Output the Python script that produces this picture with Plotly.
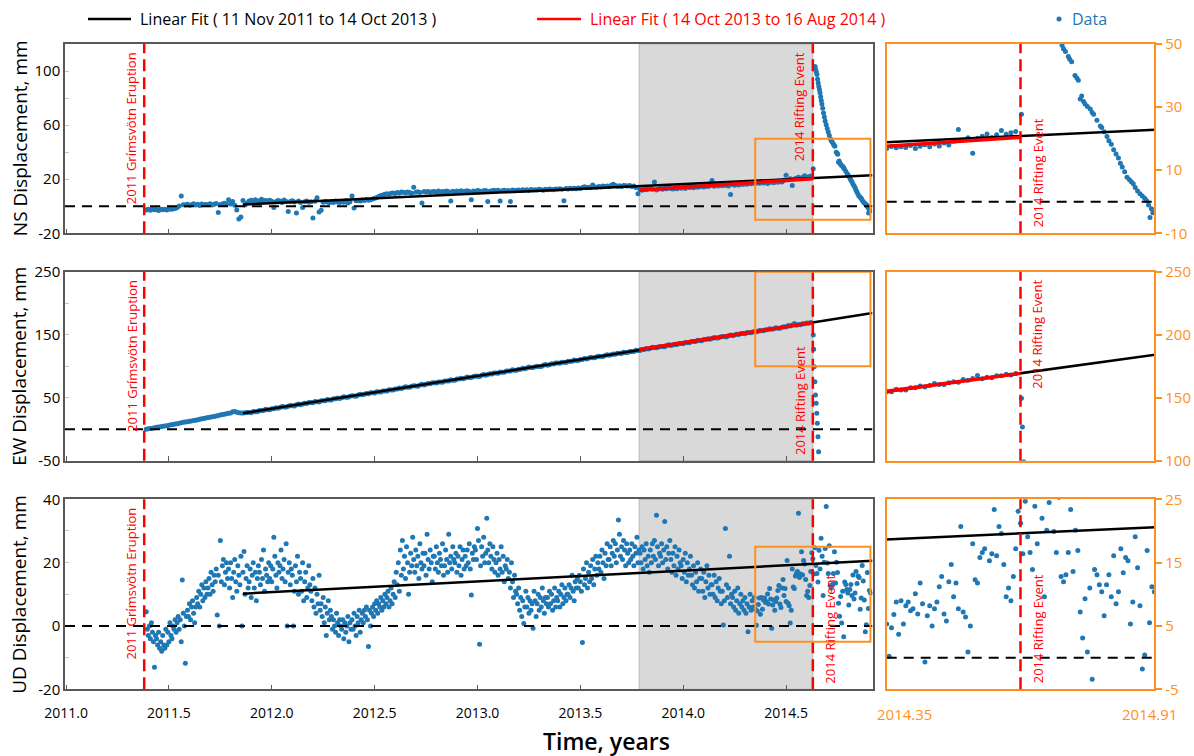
import numpy as np
import plotly.graph_objects as go

# ---------------------------------------------------------------- styling
FONT = "Open Sans"
BLUE = "#1f77b4"
RED = "#ff0000"
ORANGE = "#ff8f1f"
AXIS_GREY = "#595959"
TICK_GREY = "#c4c4c4"

# ---------------------------------------------------------------- events / windows (decimal years)
ERUPTION = 2011.38          # Grímsvötn eruption
RIFTING = 2014.63           # 16 Aug 2014 rifting event
SHADE_START = 2013.786      # 14 Oct 2013
MAIN_RANGE = [2010.995, 2014.92]
INSET_RANGE = [2014.35, 2014.91]
YEAR_TICKS = [2011.0, 2011.5, 2012.0, 2012.5, 2013.0, 2013.5, 2014.0, 2014.5]

# ---------------------------------------------------------------- horizontal GPS solutions
# one solution every 0.01 yr from 2011.39 up to the rifting event
HZ_FIRST_EPOCH = 2011.39
HZ_STEP = 0.01

ns_mm = [
    -2.8, -2.2, -3.0, -1.9, -2.6, -2.4, -3.1, -2.0, -2.5, -2.2,
    -2.7, -1.8, -2.3, -2.1, -1.6, -1.0, 0.2, 7.6, 1.2, 0.9,
    1.5, 0.8, 1.2, 1.8, 1.0, 1.4, 0.6, 1.6, 1.1, 1.3,
    1.2, 1.8, 1.0, 1.5, 2.0, -4.6, 1.3, 1.7, 2.2, 1.4,
    4.8, 1.6, 3.5, 0.8, -2.8, -9.5, -8.0, 4.2, 1.0, 2.4,
    3.8, 4.5, 3.2, 4.9, 4.0, 3.6, 5.2, 4.1, 4.3, 3.9,
    4.4, 3.7, -0.9, 3.3, 4.2, 3.9, 2.8, 4.6, 3.5, -3.8,
    3.6, 4.1, 3.2, -4.9, 3.9, 2.7, -1.0, 3.4, 3.8, 2.9,
    3.3, -8.6, 3.7, 6.2, -4.2, -3.0, 2.9, 3.5, 3.1, 2.6,
    3.4, 2.8, 3.9, 3.2, 2.7, 3.6, 3.0, 4.1, 2.5, 3.3,
    7.6, -1.2, 4.0, 4.3, 3.9, 4.6, 4.2, 5.0, 4.5, 4.8,
    5.4, 5.9, 6.5, 7.3, 7.9, 8.4, 8.8, 9.3, 8.9, 9.6,
    9.8, 9.4, 10.2, 9.7, 10.5, 10.3, 9.9, 10.6, 10.1, 9.6,
    14.1, 10.4, 10.8, 10.2, 2.5, 10.9, 10.5, 11.0, 10.3, 10.7,
    10.9, 10.4, 11.2, 10.6, 11.0, 10.7, 11.3, 10.8, 3.8, 11.1,
    10.6, 11.2, 10.9, 11.4, 10.8, 11.1, 11.5, 10.9, 4.9, 11.3,
    11.0, 11.6, 11.2, 10.8, 11.4, 11.7, 3.5, 11.1, 11.5, 11.9,
    11.3, 11.8, 3.9, 11.5, 11.9, 11.2, 11.7, 3.6, 12.0, 11.4,
    11.8, 12.1, 11.6, 12.3, 11.9, 12.2, 11.7, 12.4, 12.0, 12.3,
    12.1, 12.5, 12.2, 11.9, 12.6, 12.3, 12.8, 12.4, 12.2, 12.7,
    12.5, 12.9, 12.6, 4.1, 13.1, 12.8, 13.3, 12.9, 13.4, 13.0,
    13.5, 13.2, 13.8, 14.4, 13.6, 14.1, 13.7, 15.8, 14.3, 14.0,
    14.6, 14.2, 14.9, 14.4, 15.0, 14.7, 15.6, 16.2, 15.3, 14.8,
    15.1, 14.6, 15.4, 15.2, 14.9, 15.4, 14.7, 15.0, 13.8, 9.3,
    12.4, 11.8, 13.0, 12.2, 12.9, 13.5, 12.5, 18.0, 12.1, 12.8,
    13.2, 12.6, 13.5, 12.9, 13.8, 13.1, 12.7, 13.6, 13.0, 13.9,
    13.4, 14.1, 13.2, 14.5, 13.8, 14.3, 13.6, 14.8, 14.0, 14.4,
    14.9, 14.2, 15.3, 14.6, 15.1, 19.1, 14.8, 15.5, 15.0, 15.7,
    15.2, 15.9, 15.4, 15.0, 8.7, 16.1, 15.6, 16.4, 15.8, 16.6,
    16.0, 16.7, 16.3, 17.0, 16.6, 17.3, 16.9, 17.5, 17.1, 17.4,
    17.2, 17.8, 16.9, 17.6, 18.1, 17.4, 18.3, 17.7, 18.6, 18.0,
    19.2, 22.9, 19.6, 20.3, 15.4, 20.1, 20.8, 21.5, 20.4, 21.2,
    22.6, 21.4, 21.9, 22.3,
]

ew_mm = [
    0.0, 0.6, 1.3, 1.7, 2.4, 2.9, 3.5, 3.8, 4.6, 5.1,
    5.6, 6.2, 6.9, 7.4, 8.3, 8.8, 9.6, 10.1, 10.9, 11.5,
    12.0, 12.6, 13.1, 13.9, 14.3, 15.0, 15.7, 16.4, 17.1, 17.6,
    18.4, 19.0, 19.8, 20.3, 21.1, 21.8, 22.5, 23.3, 23.8, 24.6,
    25.2, 25.9, 27.6, 28.2, 27.0, 26.2, 25.7, 25.9, 26.3, 26.6,
    26.6, 26.2, 28.1, 27.8, 27.6, 29.5, 29.5, 29.5, 31.5, 30.8,
    30.8, 32.5, 32.5, 34.0, 33.2, 34.3, 35.9, 35.1, 35.1, 36.6,
    37.5, 37.1, 36.9, 38.8, 40.0, 38.9, 39.9, 41.1, 40.7, 42.3,
    42.3, 41.9, 43.8, 43.5, 43.3, 45.2, 45.2, 45.2, 47.2, 46.5,
    46.5, 48.2, 48.2, 49.7, 48.9, 50.0, 51.6, 50.8, 50.8, 52.3,
    53.1, 52.7, 52.5, 54.4, 55.6, 54.5, 55.5, 56.7, 56.3, 57.9,
    57.9, 57.5, 59.4, 59.1, 58.9, 60.8, 60.8, 60.8, 62.8, 62.1,
    62.2, 63.9, 63.9, 65.4, 64.6, 65.7, 67.3, 66.5, 66.5, 68.0,
    68.8, 68.4, 68.2, 70.1, 71.3, 70.2, 71.2, 72.4, 72.0, 73.6,
    73.6, 73.2, 75.1, 74.8, 74.6, 76.5, 76.5, 76.5, 78.5, 77.8,
    77.8, 79.5, 79.5, 81.0, 80.2, 81.3, 82.9, 82.1, 82.1, 83.6,
    84.4, 84.0, 83.8, 85.7, 86.9, 85.8, 86.8, 88.0, 87.6, 89.2,
    89.3, 88.9, 90.8, 90.5, 90.3, 92.2, 92.2, 92.2, 94.2, 93.5,
    93.5, 95.2, 95.2, 96.7, 95.9, 97.0, 98.6, 97.8, 97.8, 99.3,
    100.1, 99.7, 99.5, 101.4, 102.6, 101.5, 102.5, 103.7, 103.3, 104.9,
    104.9, 104.5, 106.4, 106.1, 105.9, 107.8, 107.8, 107.8, 109.8, 109.1,
    109.1, 110.8, 110.8, 112.3, 111.5, 112.6, 114.2, 113.4, 113.4, 114.9,
    115.8, 115.4, 115.2, 117.1, 118.3, 117.2, 118.2, 119.4, 119.0, 120.6,
    120.6, 120.2, 122.1, 121.8, 121.6, 123.5, 123.5, 123.5, 125.5, 124.8,
    124.8, 126.5, 126.5, 128.0, 127.2, 128.3, 129.9, 129.1, 129.1, 130.6,
    131.4, 131.0, 130.8, 132.7, 133.9, 132.8, 133.8, 135.0, 134.6, 136.2,
    136.2, 135.8, 137.7, 137.4, 137.2, 139.1, 139.1, 139.1, 141.1, 140.4,
    140.5, 142.2, 142.2, 143.7, 142.9, 144.0, 145.6, 144.8, 144.8, 146.3,
    147.1, 146.7, 146.5, 148.4, 149.6, 148.5, 149.5, 150.7, 150.3, 151.9,
    151.9, 151.5, 153.4, 153.1, 152.9, 154.8, 154.8, 154.8, 156.8, 156.1,
    156.1, 157.8, 157.8, 159.3, 158.5, 159.6, 161.2, 160.4, 160.4, 161.9,
    162.7, 162.3, 164.5, 163.9, 165.2, 167.7, 165.1, 166.3, 165.9, 167.5,
    167.4, 168.6, 168.1, 169.3,
]

# denser solutions after the rifting event
ns_post_t = [
    2014.632, 2014.641, 2014.644, 2014.647, 2014.650, 2014.653, 2014.656, 2014.659,
    2014.662, 2014.665, 2014.668, 2014.671, 2014.674, 2014.678, 2014.682, 2014.686,
    2014.690, 2014.695, 2014.700, 2014.705, 2014.710, 2014.717, 2014.720, 2014.724,
    2014.730, 2014.733, 2014.737, 2014.744, 2014.748, 2014.751, 2014.755, 2014.758,
    2014.762, 2014.765, 2014.770, 2014.776, 2014.780, 2014.783, 2014.790, 2014.797,
    2014.800, 2014.805, 2014.811, 2014.815, 2014.820, 2014.825, 2014.830, 2014.835,
    2014.839, 2014.843, 2014.848, 2014.853, 2014.858, 2014.862, 2014.866, 2014.870,
    2014.875, 2014.880, 2014.885, 2014.890, 2014.894, 2014.898, 2014.901, 2014.904,
    2014.907,
]
ns_post_mm = [
    27.7, 103.4, 101.0, 99.2, 97.5, 94.0, 91.2, 88.5,
    86.3, 84.0, 80.9, 78.2, 75.6, 72.4, 69.0, 66.1,
    63.0, 60.2, 57.5, 55.0, 52.4, 49.6, 48.5, 47.6,
    46.0, 45.2, 44.4, 40.0, 39.2, 38.5, 32.6, 33.5,
    31.8, 31.0, 30.2, 29.4, 28.3, 27.7, 25.8, 24.0,
    23.5, 22.2, 20.7, 19.3, 18.2, 16.5, 15.1, 13.9,
    12.2, 11.0, 9.5, 7.8, 7.0, 6.3, 5.7, 4.5,
    3.4, 2.5, 1.8, 1.1, 0.3, -1.0, -5.0, -2.2,
    -3.5,
]
ew_post_t = [2014.632, 2014.634, 2014.637, 2014.640, 2014.643,
             2014.646, 2014.649, 2014.652, 2014.655, 2014.658]
ew_post_mm = [149.5, 126.8, 99.2, 75.4, 54.3, 41.1, 25.2, 9.4, -11.9, -35.7]

# ---------------------------------------------------------------- vertical GPS solutions
# one solution every 0.005 yr from 2011.39 to 2014.91
UD_FIRST_EPOCH = 2011.39
UD_STEP = 0.005

ud_mm = [
    4.5, -1, -3, 0, -4, 1, -2, -5, -13, -3,
    -4, -6, -2, -7, -5, -8, -3, -6, -7, -1,
    -6, -2, -5, 1, -3, -4, 0, -1, 2, -2,
    1, 3, -1, 2, -5, 14.5, 4, 0, -11.8, 3,
    5, 3, 7, 2, 6, 8, 4, 1, 6, 9,
    7, 11, 6, 10, 13, 8, 12, 9, 14, 10,
    12, 15, 10, 17, 13, 11, 16, 14, 18, 3.5,
    16, 0, 27, 14, 19, 21, 13, 17, 20, 15,
    18, 12, 20, 15, 9, 17, 21, 14, 11, 19,
    16, 13, 22, 0, 17, 23.5, 10, 15, 19, 12,
    14, 18, 9, 16, 20, 12, 17, 8, 15, 19,
    17, 13, 21, 15, 24, 11, 18, 16, 14, 20,
    15, 19, 14, 18, 28, 22, 16, 12, 20, 17,
    19, 24, 15, 18, 21, 14, 26, 0, 17, 20,
    13, 18, 16, 0, 11, 19, 14, 22, 10, 17,
    15, 11, 20, 8, 14, 17, 9, 12, 19, 13,
    11, 8, 15, 6, 12, 4, 10, 7, 16, 5,
    7, 3, 9, 1, 6, -3, 4, 8, 2, 5,
    3, -1, 2, 0, -2, 4, 1, -3, 2, 0,
    -1, 2, -4, 1, -2, 0, 3, -5, 1, -1,
    2, -1, 4, 0, -3, 3, 1, 5, -2, 2,
    4, 1, 5, 3, 6, 2, -6.5, 5, 0, 4,
    6, 3, 7, 5, 8, 4, 7, 6, 9, 5,
    8, 6, 10, 7, 9, 11, 6, 8, 12, 7,
    10, 14, 9, 17, 13, 20, 11, 24, 16, 27,
    18, 22, 15, 25, 20, 10, 17, 23, 19, 28,
    21, 17, 24, 19, 22, 15, 26, 20, 18, 23,
    19, 23, 16, 29, 21, 18, 24, 20, 14, 22,
    22, 18, 25, 20, 17, 23, 21, 19, 26, 16,
    19, 24, 21, 17, 29, 20, 22, 18, 25, 21,
    20, 23, 17, 22, 19, 25, 16, 21, 24, 18,
    22, 19, 24, 20, 26, 18, 9.8, 23, 21, 25,
    24, 21, 30.8, 27, -5.8, 19, 25, 22, 28, 20,
    23, 34, 24, 20, 26, 22, 18, 25, 21, 17,
    20, 23, 16, 21, 18, 25, 17, 22, 14, 19,
    18, 21, 15, 17, 12, 20, 14, 9, 16, 11,
    10, 7, 12, 5, 9, 3, 8, 0.8, 6, 11,
    6, 9, 4, 8, 5, 7, -0.7, 11, 8, 3,
    7, 10, 5, 9, 6, 12, 8, 4, 9, 7,
    9, 6, 11, 7, 10, 5, 8, 12, 6, 9,
    8, 11, 6, 10, 13, 7, 9, 12, 8, 10,
    10, 13, 9, 12, 16, 11, 8, 14, 12, 15,
    12, 16, 14, 11, -5.2, 18, 13, 15, 20, 12,
    17, 14, 19, 15, 21, 13, 18, 22, 16, 20,
    18, 22, 17, 24, 20, 15, 23, 19, 26, 21,
    21, 25, 19, 23, 27, 22, 26, 20, 24, 33.5,
    29, 22, 25, 21, 27, 24, 19, 26, 23, 20,
    24, 21, 26, 22, 19, 25, 23, 28, 20, 24,
    23, 20, 25, 18, 24, 21, 26, 19, 22, 17,
    24, 20, 26, 22, 27, 21, 35, 25, 19, 23,
    22, 26, 20, 24, 33, 21, 25, 18, 23, 27,
    21, 17, 23, 19, 25, 16, 22, 18, 24, 20,
    19, 15, 21, 17, 23, 14, 20, 16, 18, 22,
    16, 13, 19, 12, 17, 14, 20, 11, 15, 18,
    15, 11, 17, 9, 14, 19, 12, 16, 10, 13,
    13, 10, 16, 9, 14, 8, 12, 15, 11, 7,
    11, 0.3, 8, 30.8, 13, 9, 12, 22, 7, 10,
    9, 6, 11, 5, 8, 12, 4, 7, 10, 6,
    8, 5, 9, 4, 7, -1.8, 6, 10, 5, 8,
    6, 9,
    5.3, 0.2, 4.7, 6.8, 8.8, 3.7, 9.0, 5.3, 8.2, 8.8, 7.4,
    7.7, 10.1, 6.9, 11.8, 8.5, -0.7, 6.6, 8.2, 5.0, 7.7,
    8.8, 11.2, 12.8, 6.9, 5.8, 12.0, 14.7, 9.6, 11.8, 7.7,
    20.7, 7.2, 6.4, 0.9, 5.0, 18.0, 12.3, 11.8, 15.8, 16.6,
    17.2, 35.6, 15.3, 16.4, 23.4, 16.1, 20.7, 19.6, 14.7, 9.6,
    11.0, 9.0, 12.8, 17.2, 23.1, 21.2, 16.4, 24.7, 19.1, 16.6,
    13.9, 23.9, 18.0, 27.7, 22.0, 9.6, 20.1, 24.5, 37.7, 19.9,
    16.6, 25.3, 12.8, 12.0, 13.1, 16.6, 23.4, 13.6, 20.1, 16.9,
    7.2, 3.1, 9.3, 0.9, 11.0, -3.4, 13.9, 13.1, 11.5, 10.4,
    6.6, 11.5, 13.1, 9.6, 16.1, 8.5, 10.4, 17.2, 13.4, 15.8,
    15.3, 5.3, 8.8, 19.1, 14.2, 8.2, -1.8, 0.4, 16.9, 5.5, 11.2, 10.4,
]

# ---------------------------------------------------------------- linear fits (end points, mm)
fit_long_t = [2011.86, 2014.92]          # 11 Nov 2011 onwards
fit_long_ns = [1.3, 22.9]
fit_long_ew = [25.2, 184.5]
fit_long_ud = [10.2, 20.6]
fit_short_t = [2013.786, 2014.63]        # 14 Oct 2013 to 16 Aug 2014
fit_short_ns = [11.9, 20.4]
fit_short_ew = [126.5, 169.3]

# ---------------------------------------------------------------- assemble series
hz_t = np.round(HZ_FIRST_EPOCH + HZ_STEP * np.arange(len(ns_mm)), 3)
ns_t = np.concatenate([hz_t, ns_post_t])
ns_v = np.concatenate([ns_mm, ns_post_mm])
ew_t = np.concatenate([np.round(HZ_FIRST_EPOCH + HZ_STEP * np.arange(len(ew_mm)), 3), ew_post_t])
ew_v = np.concatenate([ew_mm, ew_post_mm])
ud_t = np.round(UD_FIRST_EPOCH + UD_STEP * np.arange(len(ud_mm)), 4)
ud_v = np.array(ud_mm, dtype=float)

panels = [
    dict(title="NS Displacement, mm", t=ns_t, v=ns_v,
         rng=[-20, 120], ticks=[-20, 20, 60, 100], minor=[0, 40, 80],
         inset_rng=[-10, 50], inset_ticks=[-10, 10, 30, 50],
         long=fit_long_ns, short=fit_short_ns,
         rift_main=("right", "top"), rift_inset=("left", "bottom")),
    dict(title="EW Displacement, mm", t=ew_t, v=ew_v,
         rng=[-50, 250], ticks=[-50, 50, 150, 250], minor=[0, 100, 200],
         inset_rng=[100, 250], inset_ticks=[100, 150, 200, 250],
         long=fit_long_ew, short=fit_short_ew,
         rift_main=("right", "bottom"), rift_inset=("left", "top")),
    dict(title="UD Displacement, mm", t=ud_t, v=ud_v,
         rng=[-20, 40], ticks=[-20, 0, 20, 40], minor=[-10, 10, 30],
         inset_rng=[-5, 25], inset_ticks=[-5, 5, 15, 25],
         long=fit_long_ud, short=None,
         rift_main=("left", "bottom"), rift_inset=("left", "bottom")),
]

# ---------------------------------------------------------------- page geometry
W, H = 1194, 756


def fx(px):
    return px / W


def fy(px):
    return 1 - px / H


MAIN_X = [fx(65), fx(872.5)]
INSET_X = [fx(886.7), fx(1154.3)]
ROW_Y = [[fy(233.3), fy(44)], [fy(460.7), fy(271.7)], [fy(689.3), fy(499.3)]]


def fmt(v):
    return ("-" if v < 0 else "") + f"{abs(v):g}"


fig = go.Figure()
layout = dict(
    template="none",
    width=W, height=H, autosize=False,
    margin=dict(l=0, r=0, t=0, b=0, pad=0),
    paper_bgcolor="white", plot_bgcolor="white",
    showlegend=False,
    font=dict(family=FONT, color="black"),
)
shapes = []
annotations = []


def event_label(text, xref, yref, xpos, side, vpos):
    xanchor = side
    xshift = -2 if side == "right" else 6
    if vpos == "top":
        y, yanchor, yshift = 1, "top", -6
    else:
        y, yanchor, yshift = 0, "bottom", 4
    return dict(text=text, xref=xref, yref=yref, x=xpos, y=y, xanchor=xanchor,
                yanchor=yanchor, xshift=xshift, yshift=yshift, textangle=-90,
                showarrow=False, font=dict(color=RED, size=13, family=FONT))


for r, p in enumerate(panels):
    m_id = "" if r == 0 else str(2 * r + 1)
    i_id = str(2 * r + 2)
    mx, my = "x" + m_id, "y" + m_id
    ix, iy = "x" + i_id, "y" + i_id

    layout["xaxis" + m_id] = dict(
        domain=MAIN_X, anchor=my, range=MAIN_RANGE, automargin=False,
        tickmode="array", tickvals=YEAR_TICKS, tickformat=".1f",
        showticklabels=(r == 2), ticks="inside", ticklen=5, tickwidth=1,
        tickcolor=AXIS_GREY, tickfont=dict(size=14), ticklabelstandoff=10,
        showline=True, linecolor=AXIS_GREY, linewidth=1.5, mirror=True,
        showgrid=False, zeroline=False)
    layout["yaxis" + m_id] = dict(
        domain=ROW_Y[r], anchor=mx, range=p["rng"], automargin=False,
        tickmode="array", tickvals=p["ticks"], ticktext=[fmt(v) for v in p["ticks"]],
        ticks="inside", ticklen=4, tickcolor=TICK_GREY,
        minor=dict(tickmode="array", tickvals=p["minor"], ticks="inside",
                   ticklen=4, tickcolor=TICK_GREY),
        tickfont=dict(size=15),
        showline=True, linecolor=AXIS_GREY, linewidth=1.5, mirror=True,
        showgrid=False, zeroline=False)
    layout["xaxis" + i_id] = dict(
        domain=INSET_X, anchor=iy, range=INSET_RANGE, automargin=False,
        showticklabels=False, ticks="",
        showline=True, linecolor=ORANGE, linewidth=2, mirror=True,
        showgrid=False, zeroline=False)
    layout["yaxis" + i_id] = dict(
        domain=ROW_Y[r], anchor=ix, side="right", range=p["inset_rng"], automargin=False,
        tickmode="array", tickvals=p["inset_ticks"],
        ticktext=[fmt(v) for v in p["inset_ticks"]],
        ticks="outside", ticklen=6, tickwidth=1.5, tickcolor=ORANGE,
        tickfont=dict(size=15, color=ORANGE),
        showline=True, linecolor=ORANGE, linewidth=2, mirror=True,
        showgrid=False, zeroline=False)

    # shaded interval of the short fit (main panel only)
    shapes.append(dict(type="rect", xref=mx, yref=my + " domain",
                       x0=SHADE_START, x1=RIFTING, y0=0, y1=1, layer="below",
                       fillcolor="#d9d9d9", line=dict(color="#b5b5b5", width=1)))

    for ax, ay, is_inset in [(mx, my, False), (ix, iy, True)]:
        fig.add_trace(go.Scatter(x=p["t"], y=p["v"], mode="markers", xaxis=ax, yaxis=ay,
                                 marker=dict(size=5, color=BLUE, line=dict(width=0)),
                                 hoverinfo="skip"))
        fig.add_trace(go.Scatter(x=fit_long_t, y=p["long"], mode="lines", xaxis=ax, yaxis=ay,
                                 line=dict(color="black", width=2.5), hoverinfo="skip"))
        if p["short"] is not None:
            fig.add_trace(go.Scatter(x=fit_short_t, y=p["short"], mode="lines", xaxis=ax,
                                     yaxis=ay, line=dict(color=RED, width=3.5),
                                     hoverinfo="skip"))
        xr = INSET_RANGE if is_inset else MAIN_RANGE
        # zero reference
        shapes.append(dict(type="line", xref=ax, yref=ay, x0=xr[0], x1=xr[1], y0=0, y1=0,
                           line=dict(color="black", width=2, dash="10px,7px")))
        # rifting event
        shapes.append(dict(type="line", xref=ax, yref=ay + " domain", x0=RIFTING, x1=RIFTING,
                           y0=0, y1=1, line=dict(color=RED, width=2.5, dash="12px,6px")))
        side, vpos = p["rift_inset"] if is_inset else p["rift_main"]
        annotations.append(event_label("2014 Rifting Event", ax, ay + " domain", RIFTING,
                                       side, vpos))

    # eruption marker
    shapes.append(dict(type="line", xref=mx, yref=my + " domain", x0=ERUPTION, x1=ERUPTION,
                       y0=0, y1=1, line=dict(color=RED, width=2.5, dash="12px,6px")))
    annotations.append(event_label("2011 Grímsvötn Eruption", mx, my + " domain", ERUPTION,
                                   "right", "top"))

    # zoom window outline
    shapes.append(dict(type="rect", xref=mx, yref=my, x0=INSET_RANGE[0], x1=INSET_RANGE[1],
                       y0=p["inset_rng"][0], y1=p["inset_rng"][1],
                       line=dict(color=ORANGE, width=2)))

    # y-axis title
    annotations.append(dict(text=p["title"], xref="paper", yref="paper", x=fx(19.5),
                            y=sum(ROW_Y[r]) / 2, textangle=-90, showarrow=False,
                            xanchor="center", yanchor="middle", font=dict(size=19)))

# inset time limits
annotations.append(dict(text="2014.35", xref="paper", yref="paper", x=fx(875), y=fy(714),
                        xanchor="left", yanchor="middle", showarrow=False,
                        font=dict(size=15, color=ORANGE)))
annotations.append(dict(text="2014.91", xref="paper", yref="paper", x=fx(1179), y=fy(714),
                        xanchor="right", yanchor="middle", showarrow=False,
                        font=dict(size=15, color=ORANGE)))
# x-axis title
annotations.append(dict(text="Time, years", xref="paper", yref="paper", x=fx(606), y=fy(741),
                        xanchor="center", yanchor="middle", showarrow=False,
                        font=dict(size=23, weight=600)))

# legend row
LEG_Y = fy(19)
shapes.append(dict(type="line", xref="paper", yref="paper", x0=fx(88), x1=fx(131),
                   y0=LEG_Y, y1=LEG_Y, line=dict(color="black", width=2.5)))
annotations.append(dict(text="Linear Fit ( 11 Nov 2011 to 14 Oct 2013 )", xref="paper",
                        yref="paper", x=fx(138), y=LEG_Y, xanchor="left", yanchor="middle",
                        showarrow=False, font=dict(size=16, color="black")))
shapes.append(dict(type="line", xref="paper", yref="paper", x0=fx(537), x1=fx(581),
                   y0=LEG_Y, y1=LEG_Y, line=dict(color=RED, width=2.5)))
annotations.append(dict(text="Linear Fit ( 14 Oct 2013 to 16 Aug 2014 )", xref="paper",
                        yref="paper", x=fx(588), y=LEG_Y, xanchor="left", yanchor="middle",
                        showarrow=False, font=dict(size=16, color=RED)))
shapes.append(dict(type="circle", xref="paper", yref="paper", x0=fx(1056.5), x1=fx(1061.5),
                   y0=fy(21.5), y1=fy(16.5), fillcolor=BLUE, line=dict(width=0)))
annotations.append(dict(text="Data", xref="paper", yref="paper", x=fx(1070), y=LEG_Y,
                        xanchor="left", yanchor="middle", showarrow=False,
                        font=dict(size=16, color=BLUE)))

layout["shapes"] = shapes
layout["annotations"] = annotations
fig.update_layout(**layout)
fig.write_html("out.html")
